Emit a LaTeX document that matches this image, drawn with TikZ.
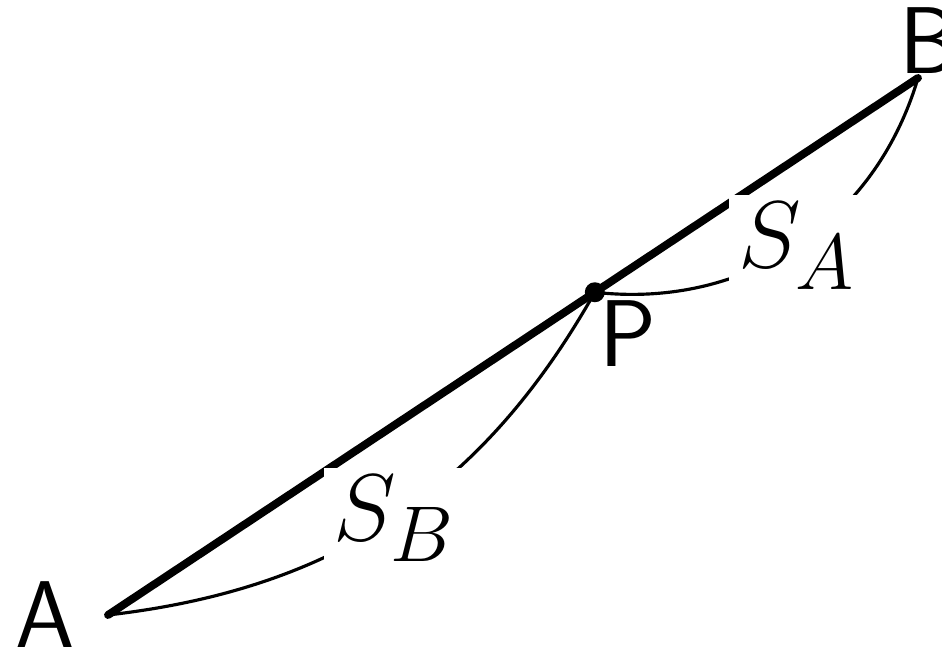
\documentclass[tikz,border=0pt]{standalone}
\usepackage{tikz}
\usetikzlibrary{calc}

\begin{document}
\begin{tikzpicture}[
    ptlabel/.style={font=\fontsize{54}{60}\selectfont\sffamily, inner sep=0pt},
    arclabel/.style={fill=white, font=\fontsize{24.88}{30}\selectfont, scale=2.17,
        inner xsep=2.5pt, inner ysep=2pt},
    segline/.style={line width=4.5pt, line cap=round},
    arcline/.style={line width=1.8pt}]
    \useasboundingbox (0,0) rectangle (18.84,13.08);
    % end points and the point on the segment
    \coordinate (A) at (2.16,0.78);
    \coordinate (B) at (18.36,11.52);
    \coordinate (P) at ($(A)!0.601!(B)$);

    \draw[segline] (A) -- (B);

    % arcs AP and PB
    \draw[arcline] (A) to[bend right=27] node[arclabel] (sb) {$S_B$} (P);
    \draw[arcline] (P) to[bend right=40] node[arclabel] (sa) {$S_A$} (B);

    \fill (P) circle (0.2);

    % point labels
    \node[ptlabel] (la) at ($(A)+(-1.26,0)$) {A};
    \node[ptlabel] (lb) at ($(B)+(0.22,0.74)$) {B};
    \node[ptlabel] (lp) at ($(P)+(0.66,-0.82)$) {P};
\end{tikzpicture}
\end{document}
